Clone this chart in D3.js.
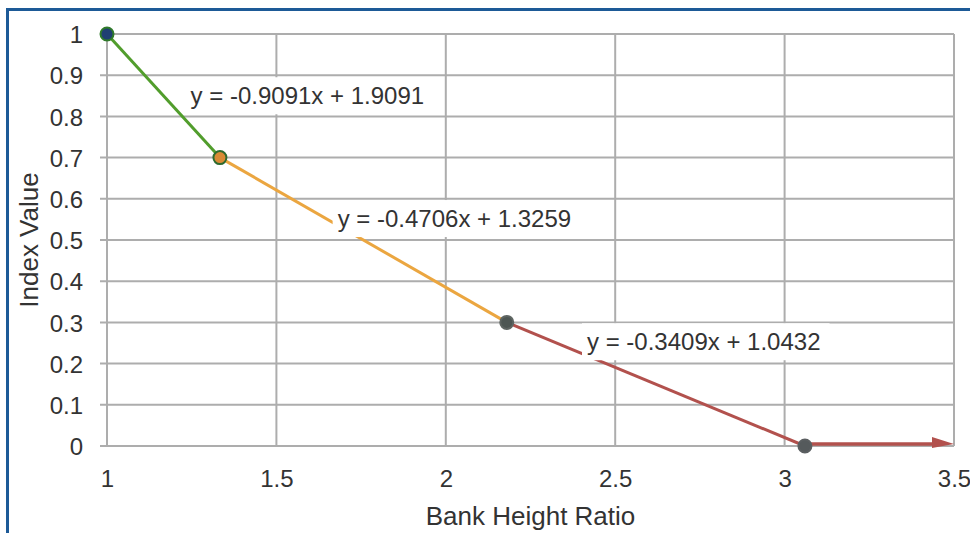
<!DOCTYPE html>
<html>
<head>
<meta charset="utf-8">
<script src="https://cdn.jsdelivr.net/npm/d3@7"></script>
<style>
  body { margin: 0; background: #fff; }
  svg { display: block; font-family: "Liberation Sans", Arial, Helvetica, sans-serif; }
  .tick-label { fill: #333; font-size: 24px; font-family: "Liberation Sans", Arial, sans-serif; }
  .axis-title { fill: #333; font-size: 26px; }
  .eq-label { fill: #333; font-size: 24px; }
  .grid line { stroke: #adadad; stroke-width: 2; }
</style>
</head>
<body>
<div id="chart"></div>
<script>
// breakpoints of the piecewise index curve
const pointX = [1, 1.3333, 2.18, 3.06];
const pointY = [1, 0.7, 0.3, 0];
// flat tail after the last breakpoint
const tailEnd = [3.5, 0];

const equations = [
    "y = -0.9091x + 1.9091",
    "y = -0.4706x + 1.3259",
    "y = -0.3409x + 1.0432"
];

const xTicks = [1, 1.5, 2, 2.5, 3, 3.5];
const yTicks = [0, 0.1, 0.2, 0.3, 0.4, 0.5, 0.6, 0.7, 0.8, 0.9, 1];

// styles
const segColors = ["#519d2c", "#eba640", "#b2514d"];
const markerFill = ["#1f3f73", "#d98a35", "#4d5653", "#555a5c"];
const markerStroke = ["#2f7a2a", "#2e6a2e", "#5e6562", "#5b5f61"];
// label box top-left corners, in data units
const labelAt = [[1.232, 0.895], [1.666, 0.597], [2.402, 0.298]];

const W = 970, H = 533;
const margin = {top: 34, right: 16, bottom: 87, left: 107};
const width = W - margin.left - margin.right;
const height = H - margin.top - margin.bottom;

const svg = d3.select("#chart").append("svg")
    .attr("width", W)
    .attr("height", H);

// blue frame
svg.append("path")
    .attr("d", "M7.5,533 L7.5,9.5 L970,9.5")
    .attr("fill", "none")
    .attr("stroke", "#1d5a97")
    .attr("stroke-width", 3);

const g = svg.append("g")
    .attr("transform", "translate(" + margin.left + "," + margin.top + ")");

let x = d3.scaleLinear().domain([1, 3.5]).range([0, width]);
let y = d3.scaleLinear().domain([0, 1]).range([height, 0]);

// grid
let grid = g.append("g").attr("class", "grid");
grid.selectAll(".hgrid")
    .data(yTicks)
    .enter()
    .append("line")
    .attr("x1", -7)
    .attr("x2", width)
    .attr("y1", d => y(d))
    .attr("y2", d => y(d));
grid.selectAll(".vgrid")
    .data(xTicks)
    .enter()
    .append("line")
    .attr("x1", d => x(d))
    .attr("x2", d => x(d))
    .attr("y1", 0)
    .attr("y2", height);

// axes (labels only, lines come from the grid)
let yAxis = g.append("g")
    .call(d3.axisLeft(y).tickValues(yTicks).tickSize(0).tickPadding(24)
        .tickFormat(d => String(+d.toFixed(1))));
let xAxis = g.append("g")
    .attr("transform", "translate(0," + height + ")")
    .call(d3.axisBottom(x).tickValues(xTicks).tickSize(0).tickPadding(21)
        .tickFormat(d => String(d)));
[yAxis, xAxis].forEach(a => {
    a.attr("font-size", null).attr("font-family", null);
    a.select(".domain").remove();
    a.selectAll("text").attr("class", "tick-label");
});
yAxis.selectAll("text").attr("dy", "0.36em");
xAxis.selectAll("text").attr("dy", "0.85em");

// segments
let segs = d3.range(pointX.length - 1).map(i => [[pointX[i], pointY[i]], [pointX[i + 1], pointY[i + 1]]]);
g.selectAll(".seg")
    .data(segs)
    .enter()
    .append("line")
    .attr("x1", d => x(d[0][0]))
    .attr("y1", d => y(d[0][1]))
    .attr("x2", d => x(d[1][0]))
    .attr("y2", d => y(d[1][1]))
    .attr("stroke", (d, i) => segColors[i])
    .attr("stroke-width", 3);

// tail with arrow head
let last = pointX.length - 1;
let tipX = x(tailEnd[0]), tipY = y(tailEnd[1]) - 2;
g.append("line")
    .attr("x1", x(pointX[last]))
    .attr("y1", tipY)
    .attr("x2", tipX - 18)
    .attr("y2", tipY)
    .attr("stroke", segColors[2])
    .attr("stroke-width", 3.5);
g.append("path")
    .attr("d", "M" + tipX + "," + tipY + " L" + (tipX - 22) + "," + (tipY - 7) + " L" + (tipX - 22) + "," + (tipY + 4) + "Z")
    .attr("fill", segColors[2]);

// markers
g.selectAll(".pt")
    .data(pointX)
    .enter()
    .append("circle")
    .attr("cx", d => x(d))
    .attr("cy", (d, i) => y(pointY[i]))
    .attr("r", 6.5)
    .attr("fill", (d, i) => markerFill[i])
    .attr("stroke", (d, i) => markerStroke[i])
    .attr("stroke-width", 2);

// equation labels on white boxes
equations.forEach(function(eq, i) {
    let bx = x(labelAt[i][0]), by = y(labelAt[i][1]);
    let box = g.append("rect")
        .attr("x", bx)
        .attr("y", by)
        .attr("height", 37)
        .attr("fill", "#fff");
    let t = g.append("text")
        .attr("class", "eq-label")
        .attr("x", bx + 5)
        .attr("y", by + 27)
        .text(eq);
    box.attr("width", t.node().getComputedTextLength() + 14);
});

// axis titles
svg.append("text")
    .attr("class", "axis-title")
    .attr("x", margin.left + width / 2)
    .attr("y", 525)
    .attr("text-anchor", "middle")
    .text("Bank Height Ratio");
svg.append("text")
    .attr("class", "axis-title")
    .attr("transform", "translate(38," + (margin.top + height / 2) + ") rotate(-90)")
    .attr("text-anchor", "middle")
    .text("Index Value");
</script>
</body>
</html>
